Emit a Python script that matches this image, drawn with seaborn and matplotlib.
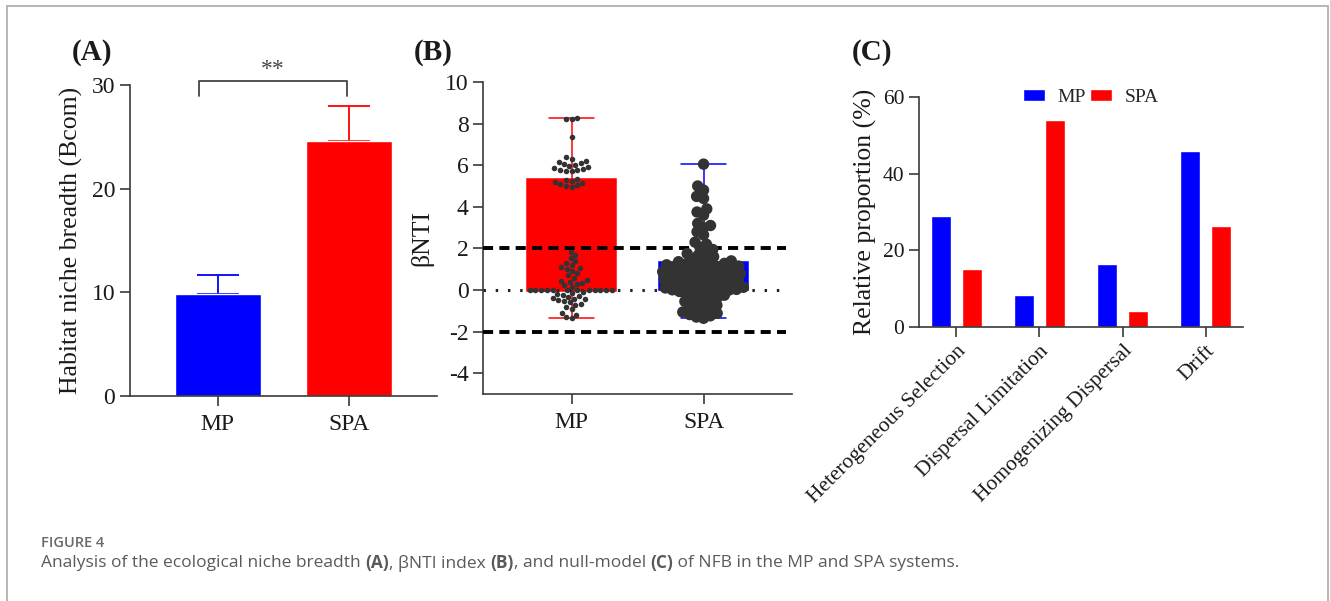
import matplotlib
matplotlib.use("Agg")
import matplotlib.pyplot as plt
import matplotlib.patheffects as pe
from matplotlib.patches import Rectangle
import pandas as pd
import seaborn as sns

# ---- data ----
groups = ["MP", "SPA"]
colors = {"MP": "#0000FF", "SPA": "#FF0000"}

# (A) habitat niche breadth, mean and upper error
niche_mean = [9.8, 24.6]
niche_err = [1.9, 3.4]

# (B) betaNTI values per group
bnti_mp = [8.25, 8.22, 8.2, 7.35,
           6.4, 6.3, 6.2, 6.15, 6.1, 6.05, 6.0, 5.95, 5.9, 5.85, 5.8, 5.78, 5.75, 5.72, 5.7,
           5.35, 5.3, 5.25, 5.2, 5.15, 5.1, 5.05, 5.0, 4.95,
           1.85, 1.7, 1.55, 1.4, 1.3, 1.2, 1.1, 1.05, 1.0, 0.9, 0.8, 0.7, 0.6, 0.5,
           0.45, 0.4, 0.35, 0.3, 0.22, 0.15,
           0.0, 0.0, 0.0, 0.0, 0.0, 0.0, 0.0, 0.0, 0.0, 0.0, 0.0, 0.0,
           -0.1, -0.15, -0.2, -0.25, -0.3, -0.35, -0.4, -0.42, -0.45, -0.5,
           -0.55, -0.6, -0.65, -0.7, -0.8, -0.9,
           -1.1, -1.2, -1.3, -1.35]
bnti_spa = [6.05, 5.0, 4.8, 4.5, 4.4, 3.9, 3.75, 3.6, 3.2, 3.1, 3.0, 2.8, 2.65,
            2.3, 2.2, 2.05, 1.95, 1.85, 1.75, 1.68, 1.6, 1.52, 1.46, 1.4,
            1.36, 1.33, 1.3, 1.28, 1.24, 1.21, 1.19, 1.15, 1.12, 1.1, 1.06, 1.03,
            1.0, 0.97, 0.94, 0.92, 0.88, 0.85, 0.83, 0.79, 0.76, 0.74, 0.7, 0.67,
            0.65, 0.61, 0.58, 0.56, 0.52, 0.49, 0.47, 0.43, 0.4, 0.37, 0.35, 0.31,
            0.28, 0.26, 0.22, 0.19, 0.16, 0.13, 0.1, 0.08, 0.05, 0.03, 0.01, 0.0,
            -0.03, -0.07, -0.12, -0.16, -0.2, -0.25, -0.3, -0.36, -0.42, -0.48,
            -0.55, -0.6, -0.67, -0.73, -0.8, -0.87, -0.93, -1.0, -1.06, -1.12,
            -1.18, -1.24, -1.3, -1.36]
bnti_limits = [-2, 2]

# (C) null-model relative proportions (%)
processes = ["Heterogeneous Selection", "Dispersal Limitation",
             "Homogenizing Dispersal", "Drift"]
prop_mp = [29.0, 8.3, 16.5, 45.8]
prop_spa = [15.2, 54.0, 4.1, 26.3]

# ---- style ----
sns.set_style("ticks")
plt.rcParams["font.family"] = ["Liberation Serif", "DejaVu Serif"]
plt.rcParams["axes.unicode_minus"] = False
plt.rcParams["axes.edgecolor"] = "#3a3a3a"
plt.rcParams["axes.linewidth"] = 1.2
plt.rcParams["xtick.color"] = "#3a3a3a"
plt.rcParams["ytick.color"] = "#3a3a3a"
plt.rcParams["xtick.labelcolor"] = "#1a1a1a"
plt.rcParams["ytick.labelcolor"] = "#1a1a1a"
plt.rcParams["xtick.major.size"] = 7
plt.rcParams["ytick.major.size"] = 7
plt.rcParams["xtick.major.width"] = 1.2
plt.rcParams["ytick.major.width"] = 1.2
plt.rcParams["xtick.labelsize"] = 17
plt.rcParams["ytick.labelsize"] = 17
plt.rcParams["axes.labelsize"] = 18.5
plt.rcParams["axes.labelcolor"] = "#1a1a1a"

fig = plt.figure(figsize=(13.3, 6.01), dpi=100)
axA = fig.add_axes([0.0977, 0.3411, 0.2308, 0.5175])
axB = fig.add_axes([0.3632, 0.3444, 0.2323, 0.5192])
axC = fig.add_axes([0.6910, 0.4559, 0.2436, 0.3827])

# ---- (A) ----
sns.barplot(x=groups, y=niche_mean, hue=groups, palette=colors, width=0.66,
            saturation=1, legend=False, ax=axA, zorder=2)
for i, g in enumerate(groups):
    axA.errorbar(i, niche_mean[i], yerr=[[0], [niche_err[i]]], fmt="none",
                 ecolor=colors[g], elinewidth=1.3, capsize=15, capthick=1.3, zorder=1)
axA.set_ylim(0, 30)
axA.set_xlim(-0.67, 1.67)
axA.set_yticks([0, 10, 20, 30])
axA.set_ylabel("Habitat niche breadth (Bcom)")
axA.yaxis.set_label_coords(-0.153, 0.5)
axA.tick_params(axis="x", pad=6)
# significance bracket
bx0, bx1 = 0 - 0.145, 1 - 0.015
axA.plot([bx0, bx0, bx1, bx1], [28.95, 30.4, 30.4, 28.95], color="#444444",
         lw=1.3, clip_on=False)
axA.text((bx0 + bx1) / 2, 30.5, "**", ha="center", va="bottom", fontsize=17,
         color="#444444")
sns.despine(ax=axA)

# ---- (B) ----
df_b = pd.DataFrame({
    "group": ["MP"] * len(bnti_mp) + ["SPA"] * len(bnti_spa),
    "bnti": bnti_mp + bnti_spa,
})
box_cols = {"MP": "#FF0000", "SPA": "#0000FF"}
for g in groups:
    sub = df_b[df_b["group"] == g]
    sns.boxplot(data=sub, x="group", y="bnti", order=groups, color=box_cols[g],
                linecolor=box_cols[g], saturation=1, whis=(0, 100), width=0.67,
                showfliers=False, linewidth=1.1,
                medianprops={"color": box_cols[g]}, ax=axB)
for y in bnti_limits:
    axB.axhline(y, xmax=0.98, color="black", lw=2.8, ls=(0, (2.6, 1.6)), zorder=3)
axB.axhline(0, xmax=0.98, color="#222222", lw=2.2, ls=(0, (0.8, 3.2)), zorder=3)
sns.swarmplot(data=df_b[df_b["group"] == "MP"], x="group", y="bnti", order=groups,
              color="#333333", size=4.0, ax=axB, zorder=4)
sns.swarmplot(data=df_b[df_b["group"] == "SPA"], x="group", y="bnti", order=groups,
              color="#333333", size=5.0, ax=axB, zorder=4)
# SPA dots drawn heavier so they overlap into a blob
axB.collections[-1].set_path_effects([pe.Stroke(linewidth=3.2, foreground="#333333"),
                                      pe.Normal()])
axB.set_ylim(-5, 10)
axB.set_xlim(-0.67, 1.67)
axB.set_yticks([-4, -2, 0, 2, 4, 6, 8, 10])
axB.set_xlabel("")
axB.set_ylabel("βNTI")
axB.yaxis.set_label_coords(-0.162, 0.5)
axB.tick_params(axis="x", pad=6)
sns.despine(ax=axB)

# ---- (C) ----
df_c = pd.DataFrame({
    "process": processes * 2,
    "group": ["MP"] * len(processes) + ["SPA"] * len(processes),
    "value": prop_mp + prop_spa,
})
sns.barplot(data=df_c, x="process", y="value", hue="group", palette=colors,
            width=0.76, gap=0.37, saturation=1, ax=axC)
axC.set_ylim(0, 60)
axC.set_xlim(-0.45, 3.45)
axC.set_yticks([0, 20, 40, 60])
axC.set_xlabel("")
axC.set_ylabel("Relative proportion (%)")
axC.yaxis.set_label_coords(-0.13, 0.5)
axC.tick_params(labelsize=15.5)
for lab in axC.get_xticklabels():
    lab.set_rotation(45)
    lab.set_ha("right")
    lab.set_rotation_mode("anchor")
axC.legend(loc="upper left", bbox_to_anchor=(0.32, 1.035), ncol=2, frameon=False,
           handlelength=1.15, handleheight=0.6, handletextpad=0.65,
           columnspacing=0.2, borderpad=0, borderaxespad=0, fontsize=14)
sns.despine(ax=axC)

# ---- panel letters ----
for x, lab in [(0.069, "(A)"), (0.326, "(B)"), (0.656, "(C)")]:
    fig.text(x, 0.912, lab, ha="center", va="center", fontsize=21,
             fontweight="bold", color="#1a1a1a")

# ---- frame and caption ----
fig.patches.append(Rectangle((7 / 1330, -0.05), 1321 / 1330, 1.05 - 6 / 601,
                             transform=fig.transFigure, fill=False,
                             edgecolor="#b0b0b0", lw=1.3))
fig.text(41 / 1330, 1 - 543 / 601, "FIGURE 4", ha="left", va="center",
         fontsize=10.5, fontweight="semibold", color="#6a6a6a", family="Open Sans")

caption_parts = [("Analysis of the ecological niche breadth ", "normal"), ("(A)", "bold"),
                 (", βNTI index ", "normal"), ("(B)", "bold"),
                 (", and null-model ", "normal"), ("(C)", "bold"),
                 (" of NFB in the MP and SPA systems.", "normal")]
renderer = fig.canvas.get_renderer()
cx = 41 / 1330
for txt, wt in caption_parts:
    t = fig.text(cx, 1 - 563 / 601, txt, ha="left", va="center", fontsize=12.5,
                 fontweight=wt, color="#5a5a5a", family="Open Sans")
    bb = t.get_window_extent(renderer=renderer)
    cx += bb.width / fig.bbox.width

fig.savefig("out.png", dpi=100)
